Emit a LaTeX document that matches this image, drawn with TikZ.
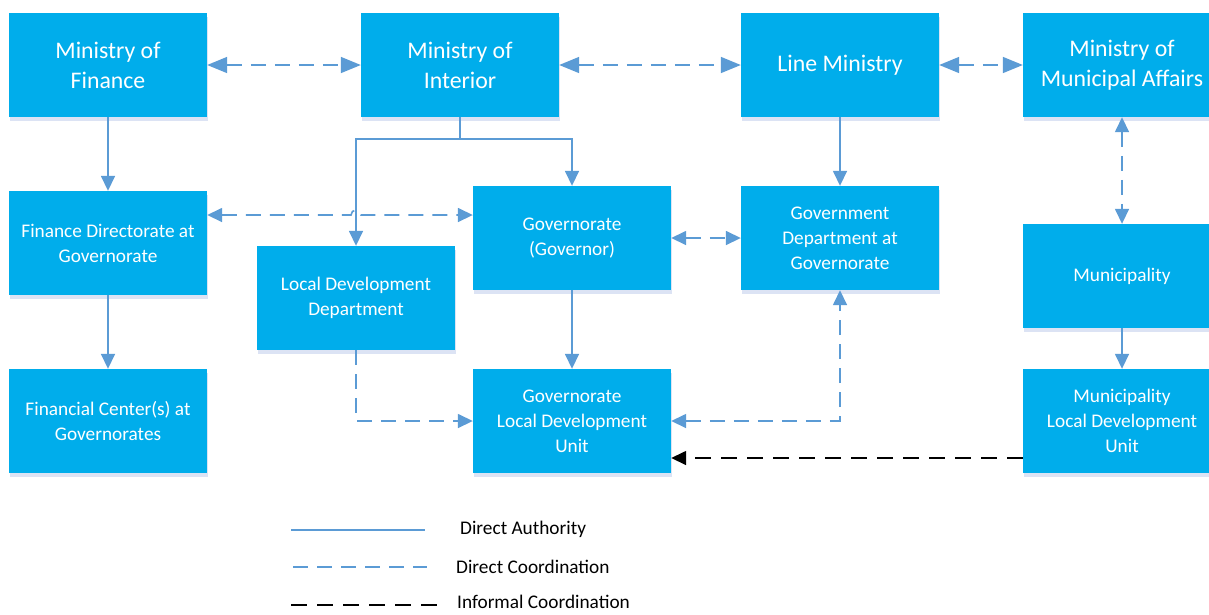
\documentclass[tikz,border=0pt]{standalone}
\usepackage{fontspec}
\setmainfont{Carlito}
\usetikzlibrary{arrows.meta,shadows}
\definecolor{boxblue}{HTML}{00ADEB}
\definecolor{lineblue}{HTML}{5B9BD5}
\definecolor{shadowcol}{HTML}{DCE3F4}
\tikzset{
  box/.style={fill=boxblue, text=white, minimum width=198pt, minimum height=104pt,
    inner sep=0pt, align=center, font=\fontsize{19.3}{25}\selectfont,
    drop shadow={shadow xshift=1pt, shadow yshift=-4pt, fill=shadowcol, opacity=1}},
  bigbox/.style={box, font=\fontsize{23.8}{30}\selectfont},
  auth/.style={draw=lineblue, line width=1.6pt, -{Triangle[length=15pt,width=14pt]}, lineblue},
  coord/.style={draw=lineblue, line width=1.6pt, dash pattern=on 15pt off 9pt, lineblue},
  inf/.style={draw=black, line width=1.6pt, dash pattern=on 16pt off 10pt},
  tip/.style={-{Triangle[length=15pt,width=14pt]}},
  tips/.style={{Triangle[length=15pt,width=14pt]}-{Triangle[length=15pt,width=14pt]}},
  bigtips/.style={{Triangle[length=20pt,width=16pt]}-{Triangle[length=20pt,width=16pt]}},
  legtext/.style={anchor=west, inner sep=0pt, text=black, font=\fontsize{19.3}{23}\selectfont}
}
\begin{document}
\begin{tikzpicture}[x=1pt,y=-1pt]
\useasboundingbox[fill=white] (0,0) rectangle (1209,614);
% row 1
\node[bigbox] (mof) at (108,65) {Ministry of\\Finance};
\node[bigbox] (moi) at (460,65) {Ministry of\\Interior};
\node[bigbox] (lm) at (840,65) {Line Ministry};
\node[bigbox] (mma) at (1122,65) {Ministry of\\Municipal Affairs};
% row 2
\node[box] (fd) at (108,243) {Finance Directorate at\\Governorate};
\node[box] (ldd) at (356,298) {Local Development\\Department};
\node[box] (gov) at (572,238) {Governorate\\(Governor)};
\node[box] (gd) at (840,238) {Government\\Department at\\Governorate};
\node[box] (mun) at (1122,276) {Municipality};
% row 3
\node[box] (fc) at (108,421) {Financial Center(s) at\\Governorates};
\node[box] (gldu) at (572,421) {Governorate\\Local Development\\Unit};
\node[box] (mldu) at (1122,421) {Municipality\\Local Development\\Unit};
% coordination top row
\draw[coord,bigtips] (mof) -- (moi);
\draw[coord,bigtips] (moi) -- (lm);
\draw[coord,bigtips] (lm) -- (mma);
% authority
\draw[auth] (mof) -- (fd);
\draw[auth] (fd) -- (fc);
\draw[auth] (moi.south) -- ++(0,22) -| (ldd.north);
\draw[auth] (moi.south) -- ++(0,22) -| (gov.north);
\draw[auth] (lm) -- (gd);
\draw[auth] (gov) -- (gldu);
\draw[auth] (mun) -- (mldu);
% coordination
\coordinate (hop) at (356,215);
\draw[coord,tips] ([yshift=28pt]fd.east) -- ([xshift=-5pt]hop) arc[start angle=180,end angle=0,radius=5pt] -- ([yshift=23pt]gov.west);
\draw[coord,tips] (gov) -- (gd);
\draw[coord,tips] (mma) -- (mun);
\draw[coord,tip] (ldd.south) |- (gldu.west);
\draw[coord,tips] (gldu.east) -| (gd.south);
\draw[inf,tip] ([yshift=-37pt]mldu.west) -- ([yshift=-37pt]gldu.east);
% legend
\coordinate (la1) at (291,530); \coordinate (lb1) at (425,530);
\coordinate (la2) at (293,567); \coordinate (lb2) at (427,567);
\coordinate (la3) at (291,605); \coordinate (lb3) at (440,605);
\draw[auth,-] (la1) -- (lb1);
\draw[coord] (la2) -- (lb2);
\draw[inf] (la3) -- (lb3);
\node[legtext] (t1) at (460,529) {Direct Authority};
\node[legtext] (t2) at (456,567) {Direct Coordination};
\node[legtext] (t3) at (457,602) {Informal Coordination};
\end{tikzpicture}
\end{document}
